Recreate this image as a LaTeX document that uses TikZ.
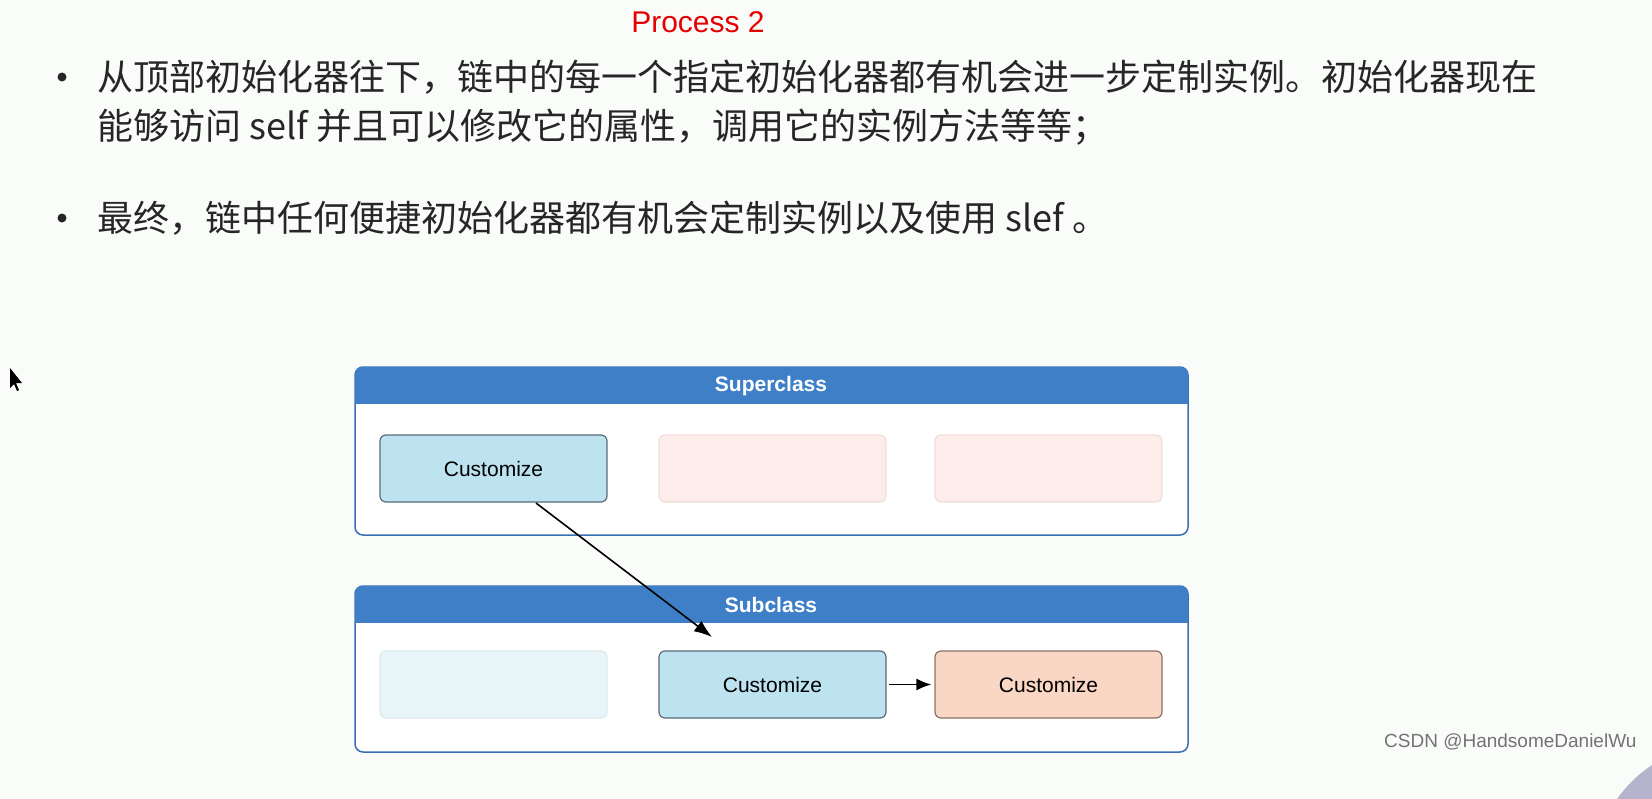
\documentclass[tikz,border=0pt]{standalone}
\usepackage{fontspec}
\setmainfont{Liberation Sans}
\newfontfamily\cjk{Noto Sans CJK SC}
\usetikzlibrary{arrows.meta}
\definecolor{bgc}{HTML}{FAFCFA}
\definecolor{hdr}{HTML}{3F7FC8}
\definecolor{hdrb}{HTML}{3B6FB5}
\definecolor{bluef}{HTML}{BDE3F0}
\definecolor{blued}{HTML}{5A6B7A}
\definecolor{pinkf}{HTML}{FCEDEA}
\definecolor{pinkd}{HTML}{F2DCD8}
\definecolor{lbf}{HTML}{E8F5F8}
\definecolor{lbd}{HTML}{DDEBEF}
\definecolor{orf}{HTML}{FAD6C4}
\definecolor{ord}{HTML}{8A7068}
\definecolor{purp}{HTML}{B6B4CC}
\tikzset{
  cbox/.style={rounded corners=6pt, line width=1.2pt},
  ctext/.style={font=\fontsize{21}{24}\selectfont, text=black},
  bullet/.style={font=\cjk\fontsize{36}{40}\selectfont, text=black!85, anchor=west, inner sep=0pt},
  hdrtext/.style={font=\fontsize{21}{24}\selectfont\bfseries, text=white},
}
\begin{document}
\begin{tikzpicture}[x=1pt,y=-1pt]
\fill[bgc] (0,0) rectangle (1652,798);
\useasboundingbox (0,0) rectangle (1652,798);
\fill[purp] (1720,870) circle (125);
% cursor
\fill[black] (10,368) -- (10,388) -- (14,384) -- (17,391) -- (19,390) -- (16,383) -- (22,383) -- cycle;
\node[text=red!90!black, font=\fontsize{30}{34}\selectfont] (title) at (698,22) {Process 2};
\fill[black!85] (62,77) circle (4.5);
\node[bullet] (l1) at (97,77) {从顶部初始化器往下，链中的每一个指定初始化器都有机会进一步定制实例。初始化器现在};
\node[bullet] (l2) at (97,127) {能够访问 self 并且可以修改它的属性，调用它的实例方法等等；};
\fill[black!85] (62,218) circle (4.5);
\node[bullet] (l3) at (97,218) {最终，链中任何便捷初始化器都有机会定制实例以及使用 slef 。};
% superclass
\draw[hdrb, line width=1.5pt, fill=white, rounded corners=8pt] (355,367) rectangle (1188,535);
\fill[hdr, rounded corners=8pt] (355,367) rectangle (1188,395);
\fill[hdr] (355,385) rectangle (1188,404);
\node[hdrtext] (sup) at (771,386) {Superclass};
\node[cbox, draw=blued, fill=bluef, minimum width=227pt, minimum height=67pt, ctext] (s1) at (493.5,468.5) {Customize};
\node[cbox, draw=pinkd, fill=pinkf, minimum width=227pt, minimum height=67pt] (s2) at (772.5,468.5) {};
\node[cbox, draw=pinkd, fill=pinkf, minimum width=227pt, minimum height=67pt] (s3) at (1048.5,468.5) {};
% subclass
\draw[hdrb, line width=1.5pt, fill=white, rounded corners=8pt] (355,586) rectangle (1188,752);
\fill[hdr, rounded corners=8pt] (355,586) rectangle (1188,614);
\fill[hdr] (355,604) rectangle (1188,623);
\node[hdrtext] (sub) at (771,605) {Subclass};
\node[cbox, draw=lbd, fill=lbf, minimum width=227pt, minimum height=67pt] (t1) at (493.5,684.5) {};
\node[cbox, draw=blued, fill=bluef, minimum width=227pt, minimum height=67pt, ctext] (t2) at (772.5,684.5) {Customize};
\node[cbox, draw=ord, fill=orf, minimum width=227pt, minimum height=67pt, ctext] (t3) at (1048.5,684.5) {Customize};
\coordinate (ae) at (712,637);
\draw[line width=1.6pt, -{Latex[length=18pt,width=13pt]}] (536,503) -- (ae);
\draw[line width=1.8pt, -{Latex[length=15pt,width=12pt]}] (t2.east) ++(2,0) -- ([xshift=-3pt]t3.west);
\node[text=black!55, font=\fontsize{19}{22}\selectfont, anchor=east] (wm) at (1640,742) {CSDN @HandsomeDanielWu};
\end{tikzpicture}
\end{document}
